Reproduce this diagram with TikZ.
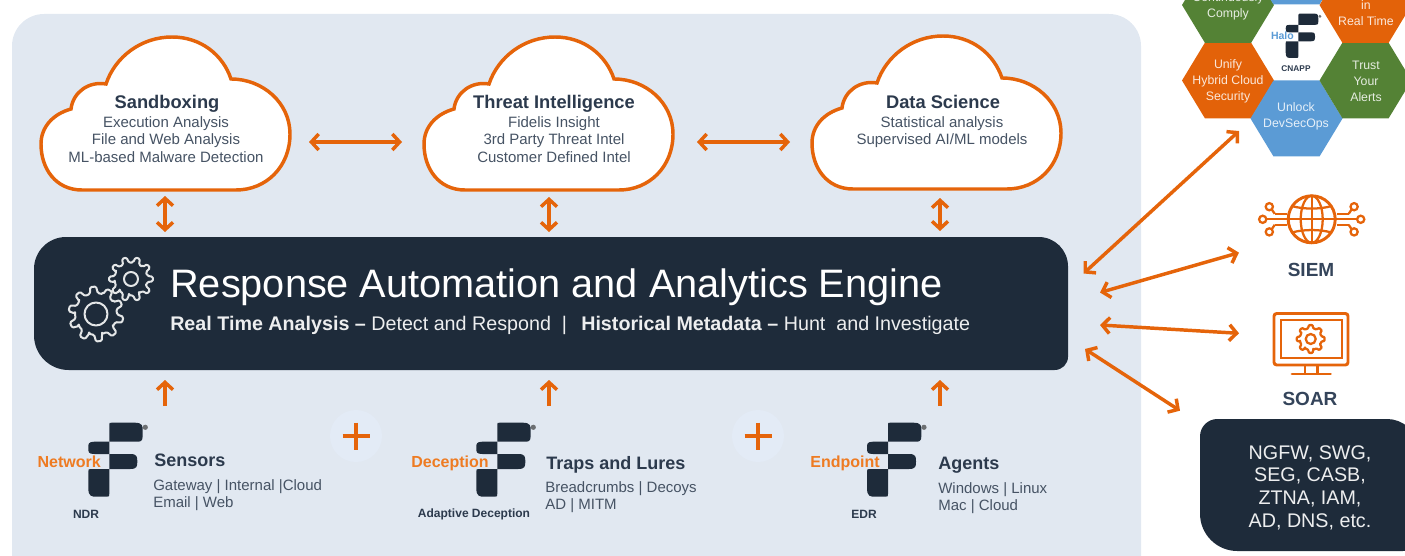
\documentclass[tikz,border=0pt]{standalone}
\usepackage{fontspec}
\setmainfont{Liberation Sans}
\usetikzlibrary{arrows.meta}
\definecolor{bgpanel}{HTML}{E1E8F1}
\definecolor{plusbg}{HTML}{E3EBF6}
\definecolor{darkbox}{HTML}{1E2B3A}
\definecolor{orng}{HTML}{E5640A}
\definecolor{hexorange}{HTML}{E36209}
\definecolor{hexgreen}{HTML}{548235}
\definecolor{hexblue}{HTML}{5B9BD5}
\definecolor{titlec}{HTML}{2C3A4D}
\definecolor{bodyc}{HTML}{465364}
\definecolor{sidec}{HTML}{34445A}
\definecolor{labelorange}{HTML}{EE7B22}
\newcommand{\pxfont}[2]{\fontsize{\dimexpr#1pt*3/4\relax}{\dimexpr#2pt*3/4\relax}\selectfont}
\newcommand{\gearshape}[8]{%
  % #1 style, #2 cx, #3 cy, #4 outer, #5 root, #6 hole, #7 teeth, #8 rotation
  \begin{scope}[shift={(#2,#3)}]
    \pgfmathsetmacro{\gs}{360/#7}
    \draw[#1] ({#8-0.30*\gs}:#5)
      \foreach \gi in {1,...,#7} {
        -- ({#8+(\gi-1)*\gs-0.30*\gs}:#5)
        -- ({#8+(\gi-1)*\gs-0.17*\gs}:#4)
        -- ({#8+(\gi-1)*\gs+0.17*\gs}:#4)
        -- ({#8+(\gi-1)*\gs+0.30*\gs}:#5)
        -- ({#8+(\gi-1)*\gs+0.70*\gs}:#5)
      } -- cycle;
    \draw[#1] (0,0) circle[radius=#6];
  \end{scope}}
\tikzset{
  barbtip/.tip={Straight Barb[length=5.5pt,width=12pt,line width=2.6pt]},
  arrowline/.style={draw=orng,line width=2.6pt,barbtip-barbtip},
  uparrow/.style={draw=orng,line width=2.6pt,-barbtip},
  cloudtitle/.style={text=titlec,font=\pxfont{18.3}{20}\bfseries,anchor=base,inner sep=0pt},
  cloudbody/.style={text=bodyc,font=\pxfont{15}{17.5},align=center,anchor=north,inner sep=0pt},
  grouptitle/.style={text=titlec,font=\pxfont{18}{20}\bfseries,anchor=base west,inner sep=0pt},
  groupbody/.style={text=bodyc,font=\pxfont{15}{17},align=left,anchor=north west,inner sep=0pt},
  logoword/.style={text=labelorange,font=\pxfont{16}{18}\bfseries,anchor=base east,inner sep=0pt},
  logocaption/.style={text=titlec,font=\pxfont{12}{14}\bfseries,inner sep=0pt},
  hextext/.style={text=white,text opacity=0.85,font=\pxfont{12.3}{16},align=center,inner sep=0pt},
  sidelabel/.style={text=sidec,font=\pxfont{19}{20}\bfseries,inner sep=0pt},
  icon/.style={draw=orng,line width=2.2pt},
  iconthin/.style={draw=orng,line width=1.7pt},
  pics/cloudshape/.style={code={
    \draw[draw=orng,fill=white,line width=2.6pt]
      (41,153) .. controls (15,153) and (0,132) .. (0,107)
      .. controls (0,90) and (12,77) .. (30,72)
      .. controls (32,55) and (48,44) .. (65,47)
      .. controls (74,20) and (100,0) .. (131,0)
      .. controls (160,0) and (182,18) .. (190,42)
      .. controls (222,42) and (249,66) .. (249,97)
      .. controls (249,130) and (225,153) .. (195,153) -- cycle;
  }},
  pics/flogo/.style={code={
    \fill[darkbox] (0,-29) .. controls (0,-31.3) and (0,-31.3) .. (2.3,-31.3) -- (25.4,-31.3)
      .. controls (33.4,-31.3) and (33.4,-28) .. (33.4,-23.3) -- (33.4,-18.3)
      .. controls (33.4,-12.3) and (31,-12.3) .. (27.4,-12.3) -- (0,-12.3) -- cycle;
    \fill[darkbox] (0,-12.3) -- (-15,-12.3) .. controls (-21,-12.3) and (-21,-10) .. (-21,-6.15)
      .. controls (-21,-2) and (-21,0) .. (-15,0) -- (0,0) -- cycle;
    \fill[darkbox] (0,0) -- (21,0) .. controls (28,0) and (28,3) .. (28,7.5)
      .. controls (28,12) and (28,15) .. (21,15) -- (0,15) -- cycle;
    \fill[darkbox] (0,15) -- (-18,15) .. controls (-21,15) and (-21,15) .. (-21,18) -- (-21,33.7)
      .. controls (-21,42.7) and (-18,42.7) .. (-12,42.7) -- (-3,42.7) .. controls (0,42.7) and (0,42.7) .. (0,39.7) -- cycle;
    \fill[gray!80!darkbox] (36,-26.7) circle[radius=2.6];
  }},
  pics/hexa/.style={code={
    \fill[#1] (-46,0) -- (-23,-38) -- (23,-38) -- (46,0) -- (23,38) -- (-23,38) -- cycle;
  }}
}
\begin{document}
\begin{tikzpicture}[x=0.75pt,y=-0.75pt]
\useasboundingbox (0,0) rectangle (1405,556);
\clip (0,0) rectangle (1405,556);
% panel
\fill[bgpanel,rounded corners=24pt] (12,14) rectangle (1141,590);
% clouds
\pic at (41,37) {cloudshape};
\pic at (424,37) {cloudshape};
\pic at (812,36) {cloudshape};
\node[cloudtitle] (sandboxT) at (167,109) {Sandboxing};
\node[cloudbody] (sandboxB) at (166,116) {Execution Analysis\\File and Web Analysis\\ML-based Malware Detection};
\node[cloudtitle] (threatT) at (554,109) {Threat Intelligence};
\node[cloudbody] (threatB) at (554,116) {Fidelis Insight\\3rd Party Threat Intel\\Customer Defined Intel};
\node[cloudtitle] (dataT) at (943,109) {Data Science};
\node[cloudbody] (dataB) at (942,116) {Statistical analysis\\Supervised AI/ML models};
% engine
\fill[darkbox] (500,237) [rounded corners=24pt] -- (34,237) [rounded corners=26pt] -- (34,370) [rounded corners=10pt] -- (1068,370) [rounded corners=22pt] -- (1068,237) [rounded corners=0pt] -- cycle;
\gearshape{draw=white!88!darkbox,line width=1.5pt,line join=round,rounded corners=1pt}{96}{314}{27.5}{21}{11.5}{10}{12}
\gearshape{draw=white!88!darkbox,line width=1.5pt,line join=round,rounded corners=1pt}{131}{279}{22}{16.5}{7}{10}{0}
\node[text=white,font=\pxfont{39.7}{44},anchor=west,inner sep=0pt] (engineT) at (170,287) {Response Automation and Analytics Engine};
\node[text=white!92!darkbox,font=\pxfont{19.7}{22},anchor=west,inner sep=0pt] (engineS) at (170,325) {\textbf{Real Time Analysis –} Detect and Respond \ | \ \,\textbf{Historical Metadata –} Hunt \ and Investigate};
% arrows between clouds
\coordinate (h1a) at (309,142); \coordinate (h1b) at (402,142);
\coordinate (h2a) at (697,142); \coordinate (h2b) at (790,142);
\draw[arrowline] (h1a) -- (h1b);
\draw[arrowline] (h2a) -- (h2b);
\coordinate (v1a) at (165,196); \coordinate (v1b) at (165,232);
\coordinate (v2a) at (549,197); \coordinate (v2b) at (549,232);
\coordinate (v3a) at (940,198); \coordinate (v3b) at (940,231);
\draw[arrowline] (v1a) -- (v1b);
\draw[arrowline] (v2a) -- (v2b);
\draw[arrowline] (v3a) -- (v3b);
\coordinate (u1a) at (165,406); \coordinate (u1b) at (165,380);
\coordinate (u2a) at (549,406); \coordinate (u2b) at (549,380);
\coordinate (u3a) at (940,406); \coordinate (u3b) at (940,380);
\draw[uparrow] (u1a) -- (u1b);
\draw[uparrow] (u2a) -- (u2b);
\draw[uparrow] (u3a) -- (u3b);
% plus signs
\fill[plusbg] (356,436) circle[radius=26];
\fill[plusbg] (758,436) circle[radius=26];
\draw[draw=orng,line width=2.5pt] (342.5,436) -- (369.5,436) (356,422.5) -- (356,449.5);
\draw[draw=orng,line width=2.5pt] (744.5,436) -- (771.5,436) (758,422.5) -- (758,449.5);
% bottom groups
\pic at (109.3,454) {flogo};
\pic at (497.3,454) {flogo};
\pic at (888,454) {flogo};
\node[logoword] (netw) at (101,467) {Network};
\node[logoword] (decp) at (489,467) {Deception};
\node[logoword] (endp) at (880,467) {Endpoint};
\node[logocaption] (ndr) at (86,514) {NDR};
\node[logocaption] (adec) at (474,514) {Adaptive Deception};
\node[logocaption] (edr) at (864,514) {EDR};
\node[grouptitle] (sensT) at (154,466.7) {Sensors};
\node[groupbody] (sensB) at (153,479) {Gateway | Internal |Cloud\\Email | Web};
\node[grouptitle] (trapT) at (546,469.3) {Traps and Lures};
\node[groupbody] (trapB) at (545,481) {Breadcrumbs | Decoys\\AD | MITM};
\node[grouptitle] (agenT) at (938,469.3) {Agents};
\node[groupbody] (agenB) at (938,482) {Windows | Linux\\Mac | Cloud};
% hexagons
\pic at (1228,80.5) {hexa=hexorange};
\pic at (1296.5,118.5) {hexa=hexblue};
\pic at (1365.5,80.5) {hexa=hexgreen};
\pic at (1228,5) {hexa=hexgreen};
\pic at (1365.5,5) {hexa=hexorange};
\pic at (1296.5,-33.5) {hexa=hexblue};
\node[hextext] (hx1) at (1228,81) {Unify\\Hybrid Cloud\\Security};
\node[hextext] (hx2) at (1296,116.5) {Unlock\\DevSecOps};
\node[hextext] (hx3) at (1366,81) {Trust\\Your\\Alerts};
\node[hextext] (hx4) at (1228,6.5) {Continuously\\Comply};
\node[hextext] (hx5) at (1366,13) {in\\Real Time};
\pic[scale=0.6] at (1298.3,32.3) {flogo};
\node[text=hexblue,font=\pxfont{10.5}{12}\bfseries,anchor=east,inner sep=0pt] (halo) at (1294,36) {Halo};
\node[text=titlec,font=\pxfont{8.3}{10}\bfseries,inner sep=0pt] (cnapp) at (1296,69) {CNAPP};
% SIEM icon
\begin{scope}[shift={(1311.7,219.3)}]
  \draw[iconthin] (0,0) ellipse[x radius=11,y radius=23.5];
  \draw[iconthin] (0,-23.5) -- (0,23.5) (-23.5,0) -- (23.5,0);
  \draw[iconthin] (-19,-13) .. controls (-8,-10) and (8,-10) .. (19,-13);
  \draw[iconthin] (-19,13) .. controls (-8,10) and (8,10) .. (19,13);
  \draw[icon] (0,0) circle[radius=23.5];
  \foreach \sx in {-1,1} {
    \draw[iconthin] (\sx*37,-5.5) -- (\sx*25,-5.5);
    \draw[iconthin] (\sx*37,-5.5) -- (\sx*40,-10);
    \draw[iconthin] (\sx*37,5.5) -- (\sx*25,5.5);
    \draw[iconthin] (\sx*37,5.5) -- (\sx*40,10);
    \draw[iconthin] (\sx*45.5,0) -- (\sx*24,0);
    \draw[iconthin] (\sx*42.4,-12.6) circle[radius=3.6];
    \draw[iconthin] (\sx*42.4,12.6) circle[radius=3.6];
    \draw[iconthin] (\sx*49,0) circle[radius=3.6];
  }
\end{scope}
\node[sidelabel] (siem) at (1311,270) {SIEM};
% SOAR icon
\draw[icon,rounded corners=2pt] (1274,313.5) rectangle (1348,365);
\draw[iconthin] (1280.7,320) rectangle (1341.7,357.7);
\draw[iconthin] (1305,365) -- (1305,373.5) (1317.5,365) -- (1317.5,373.5);
\draw[icon,line cap=round] (1292,374) -- (1330.5,374);
\gearshape{draw=orng,line width=1.7pt,line join=round,rounded corners=0.6pt}{1310.7}{339}{14}{11}{5}{8}{0}
\node[sidelabel] (soar) at (1310,399) {SOAR};
% right box
\fill[darkbox] (1300,419) [rounded corners=13pt] -- (1200,419) [rounded corners=28pt] -- (1200,551) -- (1440,551) [rounded corners=20pt] -- (1414,419) [rounded corners=0pt] -- cycle;
\node[text=white!92!darkbox,font=\pxfont{19.7}{22.6},align=center,inner sep=0pt] (others) at (1310,487.5) {NGFW, SWG,\\SEG, CASB,\\ZTNA, IAM,\\AD, DNS, etc.};
% side arrows
\coordinate (s1a) at (1083.5,273.5); \coordinate (s1b) at (1239,131);
\coordinate (s2a) at (1100,292.5); \coordinate (s2b) at (1239,252.7);
\coordinate (s3a) at (1100,325); \coordinate (s3b) at (1239,333.3);
\coordinate (s4a) at (1085,349); \coordinate (s4b) at (1180,410.7);
\draw[arrowline] (s1a) -- (s1b);
\draw[arrowline] (s2a) -- (s2b);
\draw[arrowline] (s3a) -- (s3b);
\draw[arrowline] (s4a) -- (s4b);
\end{tikzpicture}
\end{document}
